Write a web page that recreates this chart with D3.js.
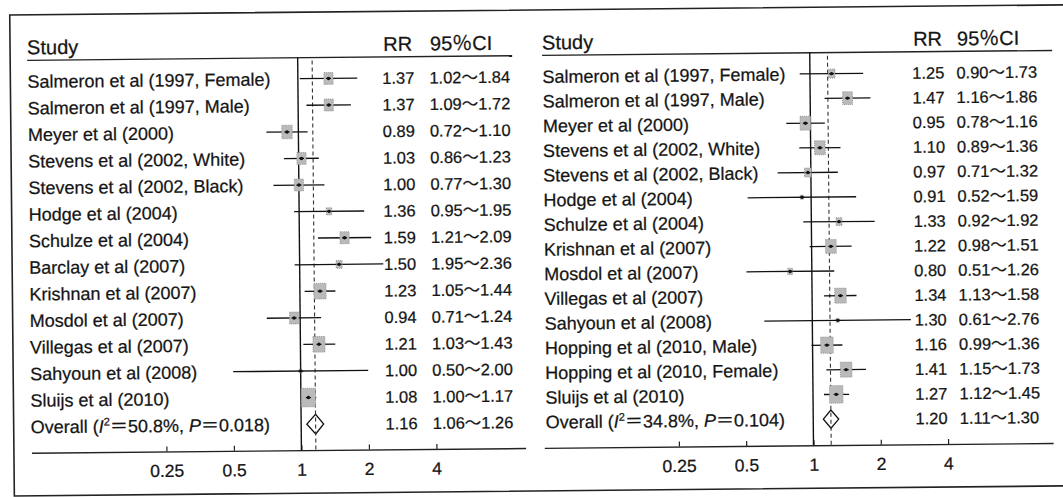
<!DOCTYPE html>
<html>
<head>
<meta charset="utf-8">
<script src="https://cdn.jsdelivr.net/npm/d3@7"></script>
<style>
  html, body { margin: 0; padding: 0; background: #fff; }
  svg { display: block; }
  text { font-family: "Liberation Sans", Arial, "Noto Sans CJK SC", sans-serif; fill: #151515;
         stroke: #151515; stroke-width: 0.25px; }
</style>
</head>
<body>
<div id="chart"></div>
<script>
// ---- left forest plot ----
const studiesLeft = ["Salmeron et al (1997, Female)", "Salmeron et al (1997, Male)", "Meyer et al (2000)",
  "Stevens et al (2002, White)", "Stevens et al (2002, Black)", "Hodge et al (2004)", "Schulze et al (2004)",
  "Barclay et al (2007)", "Krishnan et al (2007)", "Mosdol et al (2007)", "Villegas et al (2007)",
  "Sahyoun et al (2008)", "Sluijs et al (2010)"];
const rrLeft = [1.37, 1.37, 0.89, 1.03, 1.00, 1.36, 1.59, 1.50, 1.23, 0.94, 1.21, 1.00, 1.08];
const loLeft = [1.02, 1.09, 0.72, 0.86, 0.77, 0.95, 1.21, 0.95, 1.05, 0.71, 1.03, 0.50, 1.00];
const hiLeft = [1.84, 1.72, 1.10, 1.23, 1.30, 1.95, 2.09, 2.36, 1.44, 1.24, 1.43, 2.00, 1.17];
const ciLabelLeft = ["1.02～1.84", "1.09～1.72", "0.72～1.10", "0.86～1.23", "0.77～1.30", "0.95～1.95",
  "1.21～2.09", "1.95～2.36", "1.05～1.44", "0.71～1.24", "1.03～1.43", "0.50～2.00", "1.00～1.17"];
const weightLeft = [7, 7, 9, 7, 7, 2.5, 7, 3, 12, 7, 12, 0.7, 17];
const overallLeft = [1.16, 1.06, 1.26];
const hetLeft = ["50.8%", "0.018"];

// ---- right forest plot ----
const studiesRight = ["Salmeron et al (1997, Female)", "Salmeron et al (1997, Male)", "Meyer et al (2000)",
  "Stevens et al (2002, White)", "Stevens et al (2002, Black)", "Hodge et al (2004)", "Schulze et al (2004)",
  "Krishnan et al (2007)", "Mosdol et al (2007)", "Villegas et al (2007)", "Sahyoun et al (2008)",
  "Hopping et al (2010, Male)", "Hopping et al (2010, Female)", "Sluijs et al (2010)"];
const rrRight = [1.25, 1.47, 0.95, 1.10, 0.97, 0.91, 1.33, 1.22, 0.80, 1.34, 1.30, 1.16, 1.41, 1.27];
const loRight = [0.90, 1.16, 0.78, 0.89, 0.71, 0.52, 0.92, 0.98, 0.51, 1.13, 0.61, 0.99, 1.15, 1.12];
const hiRight = [1.73, 1.86, 1.16, 1.36, 1.32, 1.59, 1.92, 1.51, 1.26, 1.58, 2.76, 1.36, 1.73, 1.45];
const weightRight = [4, 8, 9.5, 9.5, 4, 0.8, 3, 9.5, 2, 11, 0.8, 13, 11, 15];
const overallRight = [1.20, 1.11, 1.30];
const hetRight = ["34.8%", "0.104"];

const tickValues = [0.25, 0.5, 1, 2, 4];
const tickLabels = ["0.25", "0.5", "1", "2", "4"];

const W = 1063, H = 497;
const lay = { head: 49.5, headLine: 55.5, rowTop: 76.5, rowBottom: 422, axis: 448 };

const svg = d3.select("#chart").append("svg").attr("width", W).attr("height", H);
// scanned page is slightly tilted
const root = svg.append("g").attr("transform", "rotate(-0.55, 531.5, 248.5)");

// frame
root.append("path")
  .attr("d", "M1080,10 L12,10 L12,491 L1080,491")
  .attr("fill", "none").attr("stroke", "#222").attr("stroke-width", 1.6);

const size = d3.scaleSqrt().domain([0, 17]).range([0, 14.3]);

function panel(p) {
  const g = root.append("g");
  const n = p.studies.length;
  const x = d3.scaleLog().base(2).domain([1, 2]).range([p.x1, p.x1 + p.unit]);
  const y = d3.scalePoint().domain(d3.range(n + 1)).range([lay.rowTop, lay.rowBottom]);
  const step = y.step();

  // header
  g.append("text").attr("x", p.labelX).attr("y", lay.head).style("font-size", "20px").text("Study");
  g.append("text").attr("x", p.rrEnd - 2).attr("y", lay.head).attr("text-anchor", "end")
    .style("font-size", "20px").text("RR");
  g.append("text").attr("x", p.ciStart + 1).attr("y", lay.head).style("font-size", "20px").text("95％CI");
  g.append("line").attr("x1", p.labelX).attr("x2", p.lineEnd)
    .attr("y1", lay.headLine).attr("y2", lay.headLine).attr("stroke", "#222").attr("stroke-width", 1.4);

  // axis
  const axisScale = x.copy().domain([1 / 16, p.axisMax]).range([x(1 / 16), x(p.axisMax)]);
  const ax = g.append("g").attr("transform", `translate(0,${lay.axis})`)
    .call(d3.axisBottom(axisScale).tickValues(tickValues)
      .tickFormat((d, i) => tickLabels[i]).tickSizeInner(-5).tickSizeOuter(0).tickPadding(13));
  ax.select(".domain").attr("stroke", "#222").attr("stroke-width", 1.4);
  ax.selectAll(".tick line").attr("stroke", "#222").attr("stroke-width", 1.2);
  ax.selectAll(".tick text").attr("fill", "#151515")
    .style("font-family", "'Liberation Sans', Arial, sans-serif").style("font-size", "17.5px");

  // overall diamond
  const oy = y(n), dh = step * 0.74;
  g.append("path")
    .attr("d", `M${x(p.overall[1])},${oy} L${x(p.overall[0])},${oy - dh / 2} L${x(p.overall[2])},${oy} L${x(p.overall[0])},${oy + dh / 2} Z`)
    .attr("fill", "#fff").attr("stroke", "#111").attr("stroke-width", 1.3);

  // reference line and pooled line
  g.append("line").attr("x1", x(1)).attr("x2", x(1))
    .attr("y1", lay.headLine).attr("y2", lay.axis).attr("stroke", "#111").attr("stroke-width", 1.4);
  g.append("line").attr("x1", x(p.overall[0])).attr("x2", x(p.overall[0]))
    .attr("y1", lay.headLine + 3).attr("y2", lay.axis).attr("stroke", "#333")
    .attr("stroke-width", 1.1).attr("stroke-dasharray", "4,3");

  // CI lines and boxes
  const rows = g.selectAll("g.row").data(p.studies).join("g").attr("class", "row");
  rows.append("line")
    .attr("x1", (d, i) => x(p.lo[i])).attr("x2", (d, i) => x(p.hi[i]))
    .attr("y1", (d, i) => y(i)).attr("y2", (d, i) => y(i))
    .attr("stroke", "#111").attr("stroke-width", 1.3);
  rows.append("rect")
    .attr("x", (d, i) => x(p.rr[i]) - size(p.w[i]) / 2)
    .attr("y", (d, i) => y(i) - size(p.w[i]) * 0.65)
    .attr("width", (d, i) => size(p.w[i]))
    .attr("height", (d, i) => size(p.w[i]) * 1.3)
    .attr("fill", "#bababa").attr("stroke", "#8a8a8a").attr("stroke-width", 0.8)
    .attr("stroke-dasharray", "1,1");
  rows.append("line")
    .attr("x1", (d, i) => x(p.rr[i]) - 2.5).attr("x2", (d, i) => x(p.rr[i]) + 2.5)
    .attr("y1", (d, i) => y(i)).attr("y2", (d, i) => y(i))
    .attr("stroke", "#111").attr("stroke-width", 1.3);
  rows.append("circle")
    .attr("cx", (d, i) => x(p.rr[i])).attr("cy", (d, i) => y(i)).attr("r", 1.7).attr("fill", "#111");

  // texts
  rows.append("text").attr("x", p.labelX).attr("y", (d, i) => y(i) + 6.5)
    .style("font-size", "18px").text(d => d);
  rows.append("text").attr("x", p.rrEnd).attr("y", (d, i) => y(i) + 6).attr("text-anchor", "end")
    .style("font-size", "16.5px").text((d, i) => p.rr[i].toFixed(2));
  rows.append("text").attr("x", p.ciStart).attr("y", (d, i) => y(i) + 6)
    .style("font-size", "16.5px").text((d, i) => p.ciLabels[i]);

  const ot = g.append("text").attr("x", p.labelX).attr("y", oy + 6.5).style("font-size", "18px");
  ot.append("tspan").text("Overall (");
  ot.append("tspan").style("font-style", "italic").text("I");
  ot.append("tspan").attr("dy", -7).style("font-size", "11px").text("2");
  ot.append("tspan").attr("dy", 7).text("＝" + p.het[0] + ", ");
  ot.append("tspan").style("font-style", "italic").text("P");
  ot.append("tspan").text("＝" + p.het[1] + ")");
  g.append("text").attr("x", p.rrEnd).attr("y", oy + 6).attr("text-anchor", "end")
    .style("font-size", "16.5px").text(p.overall[0].toFixed(2));
  g.append("text").attr("x", p.ciStart).attr("y", oy + 6)
    .style("font-size", "16.5px").text(p.overall[1].toFixed(2) + "～" + p.overall[2].toFixed(2));
}

panel({
  studies: studiesLeft, rr: rrLeft, lo: loLeft, hi: hiLeft, ciLabels: ciLabelLeft, w: weightLeft,
  overall: overallLeft, het: hetLeft,
  labelX: 29, x1: 299.5, unit: 67.5, rrEnd: 416, ciStart: 431, lineEnd: 514, axisMax: 10
});
panel({
  studies: studiesRight, rr: rrRight, lo: loRight, hi: hiRight,
  ciLabels: loRight.map((v, i) => v.toFixed(2) + "～" + hiRight[i].toFixed(2)), w: weightRight,
  overall: overallRight, het: hetRight,
  labelX: 544, x1: 811.6, unit: 67.3, rrEnd: 946, ciStart: 958, lineEnd: 1054, axisMax: 11.8
});
</script>
</body>
</html>
